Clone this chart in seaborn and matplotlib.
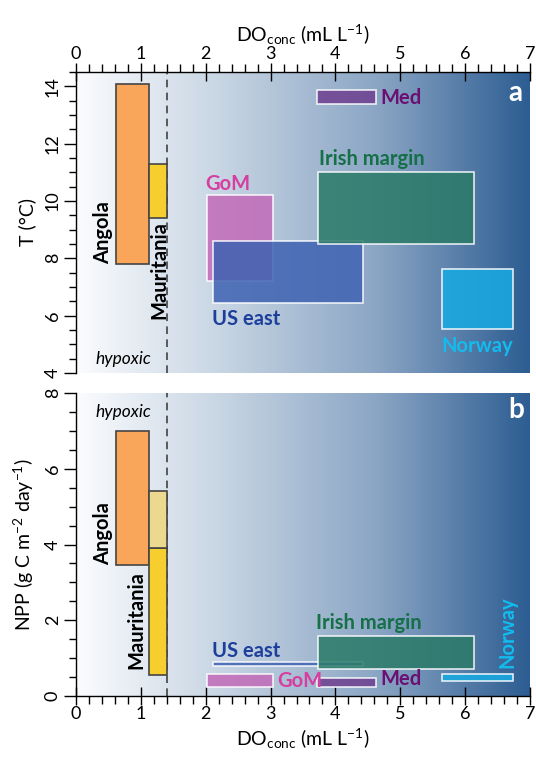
import matplotlib
matplotlib.use("Agg")
import matplotlib.pyplot as plt
import numpy as np
import seaborn as sns
from matplotlib.colors import LinearSegmentedColormap
from matplotlib.ticker import MultipleLocator

# --- data (DO range, T range, NPP range) ----------------------------------
regions = ["Angola", "Mauritania", "GoM", "US east", "Med", "Irish margin", "Norway"]
do_lo = [0.62, 1.12, 2.02, 2.12, 3.72, 3.73, 5.64]
do_hi = [1.12, 1.40, 3.03, 4.43, 4.63, 6.13, 6.74]
t_lo = [7.8, 9.4, 7.2, 6.45, 13.38, 8.5, 5.52]
t_hi = [14.07, 11.3, 10.2, 8.6, 13.88, 11.0, 7.61]
npp_lo = [3.45, 0.56, 0.25, 0.78, 0.25, 0.70, 0.40]
npp_hi = [7.0, 3.9, 0.58, 0.89, 0.47, 1.59, 0.57]
# upper part of Mauritania NPP range (lighter shade)
maur_npp_upper = [3.9, 5.41]
hypoxic_limit = 1.4

fill_colors = {
    "Angola": "#f9a65a", "Mauritania": "#f6cf2f", "GoM": "#c26ab8",
    "US east": "#3e62b2", "Med": "#6d3f8f", "Irish margin": "#2a7a68",
    "Norway": "#16aae2",
}
label_colors = {
    "Angola": "black", "Mauritania": "black", "GoM": "#d63fa0",
    "US east": "#1c3f9c", "Med": "#6b0f72", "Irish margin": "#157048",
    "Norway": "#12bcef",
}

sns.set_theme(style="ticks")
plt.rcParams["font.family"] = ["Lato", "DejaVu Sans"]
plt.rcParams["mathtext.fontset"] = "custom"
plt.rcParams["mathtext.rm"] = "Lato"
plt.rcParams["mathtext.it"] = "Lato:italic"
plt.rcParams["text.color"] = "black"
plt.rcParams["axes.labelcolor"] = "black"
plt.rcParams["xtick.labelcolor"] = "black"
plt.rcParams["ytick.labelcolor"] = "black"

fig = plt.figure(figsize=(5.36, 7.64), dpi=100)
ax_a = fig.add_axes([0.1418, 0.5118, 0.847, 0.394])
ax_b = fig.add_axes([0.1418, 0.089, 0.847, 0.3966])

bg = LinearSegmentedColormap.from_list("do_bg", ["#fbfcfe", "#c5d3e2", "#8aa5c4", "#2d5d92"])
grad = np.linspace(0, 1, 256).reshape(1, -1)

xlab = r"DO$_{\mathrm{conc}}$ (mL L$^{\mathrm{-1}}$)"


def setup(ax, ylim, top):
    ax.imshow(grad, cmap=bg, aspect="auto", extent=[0, 7, ylim[0], ylim[1]],
              zorder=0, interpolation="bicubic")
    ax.set_xlim(0, 7)
    ax.set_ylim(*ylim)
    ax.axvline(hypoxic_limit, color="#333333", ls=(0, (5, 3.5)), lw=1.1, zorder=1)
    ax.spines["right"].set_visible(False)
    ax.spines["top" if not top else "bottom"].set_visible(False)
    ax.xaxis.set_major_locator(MultipleLocator(1))
    ax.xaxis.set_minor_locator(MultipleLocator(0.2))
    ax.yaxis.set_major_locator(MultipleLocator(2))
    ax.yaxis.set_minor_locator(MultipleLocator(0.5))
    if top:
        ax.xaxis.tick_top()
        ax.xaxis.set_label_position("top")
    ax.tick_params(axis="x", which="major", direction="inout", length=13, width=1,
                   labelsize=13, color="black", pad=1)
    ax.tick_params(axis="x", which="minor", direction="out", length=6, width=1, color="black")
    ax.tick_params(axis="y", which="major", direction="out", length=9, width=1,
                   labelsize=13, color="black", labelrotation=90, pad=2)
    ax.tick_params(axis="y", which="minor", direction="out", length=5, width=1, color="black")
    for lab in ax.get_yticklabels():
        lab.set_va("center")
    for s in ax.spines.values():
        s.set_color("black")
        s.set_linewidth(1)
    ax.set_xlabel(xlab, fontsize=14, labelpad=3)


def boxes(ax, lo, hi):
    for i, r in enumerate(regions):
        dark_edge = r in ("Angola", "Mauritania")
        ax.bar(do_lo[i], hi[i] - lo[i], width=do_hi[i] - do_lo[i], bottom=lo[i],
               align="edge", color=fill_colors[r], alpha=1 if dark_edge else 0.85,
               edgecolor="#444444" if dark_edge else "white",
               linewidth=1.2, zorder=3)


# ---- panel a ----
setup(ax_a, (4, 14.5), top=True)
boxes(ax_a, t_lo, t_hi)
ax_a.set_ylabel("T (°C)", fontsize=14, labelpad=6)
kw = dict(fontsize=14.5, fontweight="bold", zorder=5)
ax_a.text(0.42, 7.8, "Angola", rotation=90, ha="center", va="bottom", color="black", **kw)
ax_a.text(1.28, 9.3, "Mauritania", rotation=90, ha="center", va="top", color="black", **kw)
ax_a.text(2.0, 10.6, "GoM", ha="left", va="center", color=label_colors["GoM"], **kw)
ax_a.text(2.1, 5.9, "US east", ha="left", va="center", color=label_colors["US east"], **kw)
ax_a.text(4.7, 13.6, "Med", ha="left", va="center", color=label_colors["Med"], **kw)
ax_a.text(3.74, 11.45, "Irish margin", ha="left", va="center",
          color=label_colors["Irish margin"], **kw)
ax_a.text(6.19, 4.95, "Norway", ha="center", va="center", color=label_colors["Norway"], **kw)
ax_a.text(0.3, 4.5, "hypoxic", ha="left", va="center", style="italic", fontsize=12.5, zorder=5)
ax_a.text(6.78, 13.75, "a", ha="center", va="center", color="white",
          fontsize=20, fontweight="bold", zorder=5)

# ---- panel b ----
setup(ax_b, (0, 8), top=False)
boxes(ax_b, npp_lo, npp_hi)
ax_b.bar(do_lo[1], maur_npp_upper[1] - maur_npp_upper[0], width=do_hi[1] - do_lo[1],
         bottom=maur_npp_upper[0], align="edge", color="#ecd98f",
         edgecolor="#444444", linewidth=1.2, zorder=3)
ax_b.set_ylabel(r"NPP (g C m$^{\mathrm{-2}}$ day$^{\mathrm{-1}}$)", fontsize=14, labelpad=6)
ax_b.text(0.42, 3.45, "Angola", rotation=90, ha="center", va="bottom", color="black", **kw)
ax_b.text(0.93, 3.3, "Mauritania", rotation=90, ha="center", va="top", color="black", **kw)
ax_b.text(2.1, 1.2, "US east", ha="left", va="center", color=label_colors["US east"], **kw)
ax_b.text(3.1, 0.4, "GoM", ha="left", va="center", color=label_colors["GoM"], **kw)
ax_b.text(3.7, 1.93, "Irish margin", ha="left", va="center",
          color=label_colors["Irish margin"], **kw)
ax_b.text(4.7, 0.44, "Med", ha="left", va="center", color=label_colors["Med"], **kw)
ax_b.text(6.65, 0.74, "Norway", rotation=90, ha="center", va="bottom",
          color=label_colors["Norway"], **kw)
ax_b.text(0.3, 7.5, "hypoxic", ha="left", va="center", style="italic", fontsize=12.5, zorder=5)
ax_b.text(6.78, 7.55, "b", ha="center", va="center", color="white",
          fontsize=20, fontweight="bold", zorder=5)

fig.savefig("out.png", dpi=100)
